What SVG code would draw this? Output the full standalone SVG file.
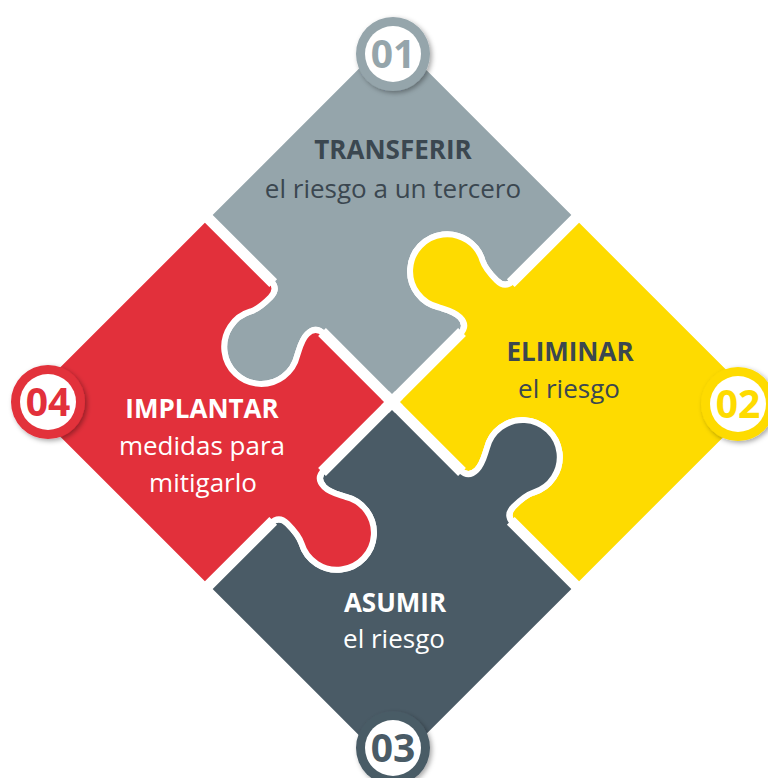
<svg xmlns="http://www.w3.org/2000/svg" width="768" height="778" viewBox="0 0 768 778">
<defs>
<style>
.pc{stroke:#fff;stroke-width:6}
.t{font-family:"Open Sans","Noto Sans","Liberation Sans",sans-serif;text-anchor:middle}
.h{font-weight:700;font-size:26px}
.s{font-weight:400;font-size:26px}
.n{font-family:"Open Sans","Noto Sans","Liberation Sans",sans-serif;font-weight:700;font-size:39px;text-anchor:middle}
.gap{stroke:#fff;stroke-width:11;fill:none}
.dk{fill:#3b4750}
.wh{fill:#fff}
</style>
<filter id="sh" x="-30%" y="-30%" width="160%" height="160%">
<feDropShadow dx="2" dy="2" stdDeviation="2.5" flood-color="#000" flood-opacity="0.35"/>
</filter>
<path id="piece" d="M0,0 L96,0 C104,0 108,-4 108,-12 C108,-20 104,-26 100,-34 A37,37 0 1 1 164,-36 C160,-28 160,-20 160,-12 C160,-4 164,0 172,0 L262,0 L262,262 L0,262 L0,172 C0,164 4,160 12,160 C20,160 28,160 36,164 A37,37 0 1 0 34,100 C26,104 20,108 12,108 C4,108 0,104 0,96 Z"/>
<path id="gl" d="M-10,0 L99,0 M168,0 L275,0"/>
</defs>

<g id="transferir">
<use href="#piece" class="pc" fill="#95a5ab" transform="translate(392,402) rotate(225)"/>
<text class="t h dk" x="393" y="159">TRANSFERIR</text>
<text class="t s dk" x="393" y="198">el riesgo a un tercero</text>
</g>

<g id="eliminar">
<use href="#piece" class="pc" fill="#fedb00" transform="translate(392,402) rotate(315)"/>
<text class="t h dk" x="570" y="361">ELIMINAR</text>
<text class="t s dk" x="569" y="398">el riesgo</text>
</g>

<g id="asumir">
<use href="#piece" class="pc" fill="#4a5b66" transform="translate(392,402) rotate(45)"/>
<text class="t h wh" x="395" y="612">ASUMIR</text>
<text class="t s wh" x="394" y="648">el riesgo</text>
</g>

<g id="implantar">
<use href="#piece" class="pc" fill="#e2303b" transform="translate(392,402) rotate(135)"/>
<text class="t h wh" x="202" y="418">IMPLANTAR</text>
<text class="t s wh" x="202" y="455">medidas para</text>
<text class="t s wh" x="203" y="492">mitigarlo</text>
</g>

<g id="gaps" class="gap">
<use href="#gl" transform="translate(392,402) rotate(225)"/>
<use href="#gl" transform="translate(392,402) rotate(315)"/>
<use href="#gl" transform="translate(392,402) rotate(45)"/>
<use href="#gl" transform="translate(392,402) rotate(135)"/>
</g>

<g id="badge-01">
<circle cx="393" cy="54" r="37" fill="#95a5ab" filter="url(#sh)"/>
<circle cx="393" cy="54" r="28" fill="#fff"/>
<text class="n" x="393" y="68" fill="#95a5ab">01</text>
</g>
<g id="badge-02">
<circle cx="738" cy="404" r="37" fill="#fedb00" filter="url(#sh)"/>
<circle cx="738" cy="404" r="28" fill="#fff"/>
<text class="n" x="738" y="418" fill="#fedb00">02</text>
</g>
<g id="badge-03">
<circle cx="393" cy="748" r="37" fill="#4a5b66" filter="url(#sh)"/>
<circle cx="393" cy="748" r="28" fill="#fff"/>
<text class="n" x="393" y="762" fill="#4a5b66">03</text>
</g>
<g id="badge-04">
<circle cx="48" cy="402" r="37" fill="#e2303b" filter="url(#sh)"/>
<circle cx="48" cy="402" r="28" fill="#fff"/>
<text class="n" x="48" y="416" fill="#e2303b">04</text>
</g>
</svg>
